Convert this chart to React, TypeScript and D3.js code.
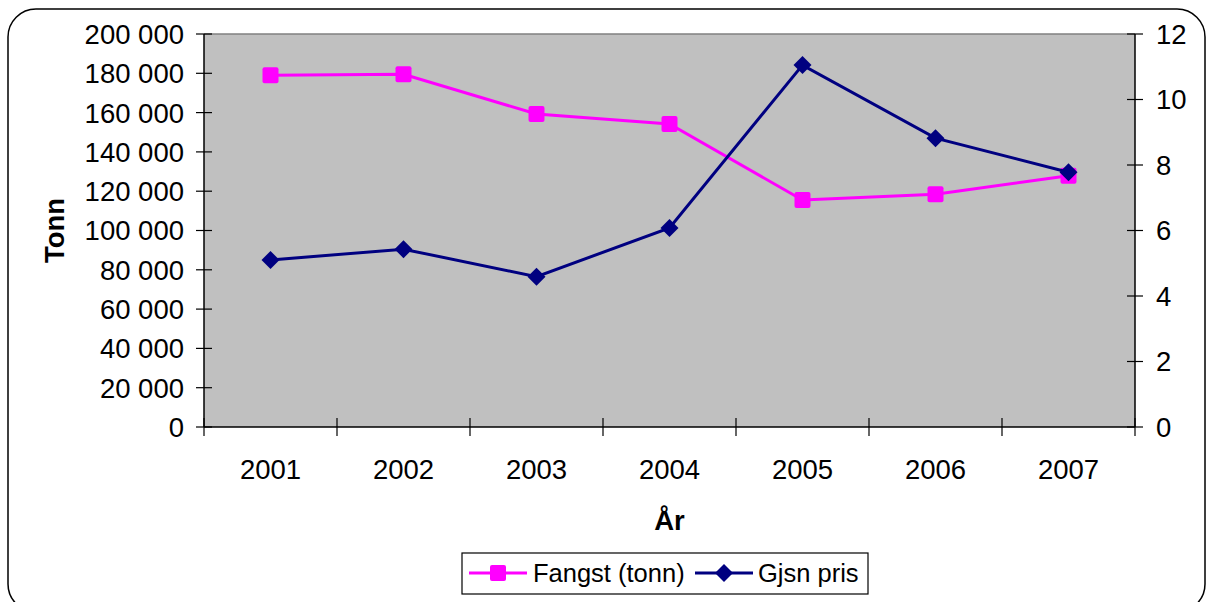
import React from "react";
import * as d3 from "d3";

const years = ["2001", "2002", "2003", "2004", "2005", "2006", "2007"];
const fangst = [179000, 179500, 159300, 154200, 115500, 118400, 127900];
const pris = [5.1, 5.43, 4.59, 6.08, 11.05, 8.82, 7.78];
const leftTicks = [0, 20000, 40000, 60000, 80000, 100000, 120000, 140000, 160000, 180000, 200000];
const rightTicks = [0, 2, 4, 6, 8, 10, 12];

const W = 1208;
const H = 602;
const M = { left: 204, right: 1135, top: 34, bottom: 427 };
const FONT = "'Liberation Sans', Arial, sans-serif";
const FS = 27.5;

const fmt = (v: number) => d3.format(",")(v).replace(/,/g, " ");

export default function App() {
  const x = d3.scaleBand<string>().domain(years).range([M.left, M.right]);
  const yL = d3.scaleLinear().domain([0, 200000]).range([M.bottom, M.top]);
  const yR = d3.scaleLinear().domain([0, 12]).range([M.bottom, M.top]);
  const cx = (d: string) => (x(d) as number) + x.bandwidth() / 2;

  const lineF = d3.line<number>().x((_, i) => cx(years[i])).y((d) => yL(d));
  const lineP = d3.line<number>().x((_, i) => cx(years[i])).y((d) => yR(d));

  const magenta = "#FF00FF";
  const navy = "#000080";

  const square = (px: number, py: number, key: any) => (
    <rect key={key} x={px - 8} y={py - 8} width={16} height={16} rx={2} fill={magenta} />
  );
  const diamond = (px: number, py: number, key: any) => (
    <path key={key} d={`M${px},${py - 9}L${px + 9},${py}L${px},${py + 9}L${px - 9},${py}Z`} fill={navy} />
  );

  const boundaries = d3.range(years.length + 1).map((i) => M.left + i * x.bandwidth());

  return (
    <svg
      width={W}
      height={H}
      style={{ position: "absolute", left: 0, top: 0, fontFamily: FONT }}
    >
      <rect x={0} y={0} width={W} height={H} fill="#fff" />
      <rect x={8} y={9} width={1197} height={603} rx={28} ry={28} fill="#fff" stroke="#000" strokeWidth={1.5} />

      {/* plot area */}
      <rect x={M.left} y={M.top} width={M.right - M.left} height={M.bottom - M.top} fill="#C0C0C0" />
      <line x1={M.left} x2={M.right} y1={M.top} y2={M.top} stroke="#808080" strokeWidth={1.5} />

      {/* left axis */}
      <line x1={M.left} x2={M.left} y1={M.top} y2={M.bottom} stroke="#000" strokeWidth={1.5} />
      {leftTicks.map((t) => (
        <g key={"l" + t}>
          <line x1={M.left - 8} x2={M.left + 8} y1={yL(t)} y2={yL(t)} stroke="#000" strokeWidth={1.2} />
          <text x={184} y={yL(t)} dy="0.36em" textAnchor="end" fontSize={FS} fill="#000">
            {fmt(t)}
          </text>
        </g>
      ))}

      {/* right axis */}
      <line x1={M.right} x2={M.right} y1={M.top} y2={M.bottom} stroke="#000" strokeWidth={1.5} />
      {rightTicks.map((t) => (
        <g key={"r" + t}>
          <line x1={M.right - 8} x2={M.right + 8} y1={yR(t)} y2={yR(t)} stroke="#000" strokeWidth={1.2} />
          <text x={1156} y={yR(t)} dy="0.36em" textAnchor="start" fontSize={FS} fill="#000">
            {t}
          </text>
        </g>
      ))}

      {/* x axis */}
      <line x1={M.left} x2={M.right} y1={M.bottom} y2={M.bottom} stroke="#000" strokeWidth={1.5} />
      {boundaries.map((b, i) => (
        <line key={"b" + i} x1={b} x2={b} y1={M.bottom - 9} y2={M.bottom + 9} stroke="#000" strokeWidth={1.2} />
      ))}
      {years.map((yr) => (
        <text key={"x" + yr} x={cx(yr)} y={479} textAnchor="middle" fontSize={FS} fill="#000">
          {yr}
        </text>
      ))}

      {/* axis titles */}
      <text x={(M.left + M.right) / 2} y={530} textAnchor="middle" fontSize={FS} fontWeight="bold" fill="#000">
        År
      </text>
      <text
        transform={`translate(64, ${(M.top + M.bottom) / 2}) rotate(-90)`}
        textAnchor="middle"
        fontSize={FS}
        fontWeight="bold"
        fill="#000"
      >
        Tonn
      </text>

      {/* series */}
      <path d={lineF(fangst) || ""} fill="none" stroke={magenta} strokeWidth={3} />
      {fangst.map((v, i) => square(cx(years[i]), yL(v), "s" + i))}
      <path d={lineP(pris) || ""} fill="none" stroke={navy} strokeWidth={3} />
      {pris.map((v, i) => diamond(cx(years[i]), yR(v), "d" + i))}

      {/* legend */}
      <rect x={462} y={553} width={406} height={41} fill="#fff" stroke="#000" strokeWidth={1.2} />
      <line x1={469} x2={527} y1={573} y2={573} stroke={magenta} strokeWidth={3} />
      {square(498, 573, "ls")}
      <text x={533} y={582} fontSize={25.5} fill="#000">Fangst (tonn)</text>
      <line x1={695} x2={753} y1={573} y2={573} stroke={navy} strokeWidth={3} />
      {diamond(724, 573, "ld")}
      <text x={758} y={582} fontSize={25.5} fill="#000">Gjsn pris</text>
    </svg>
  );
}
